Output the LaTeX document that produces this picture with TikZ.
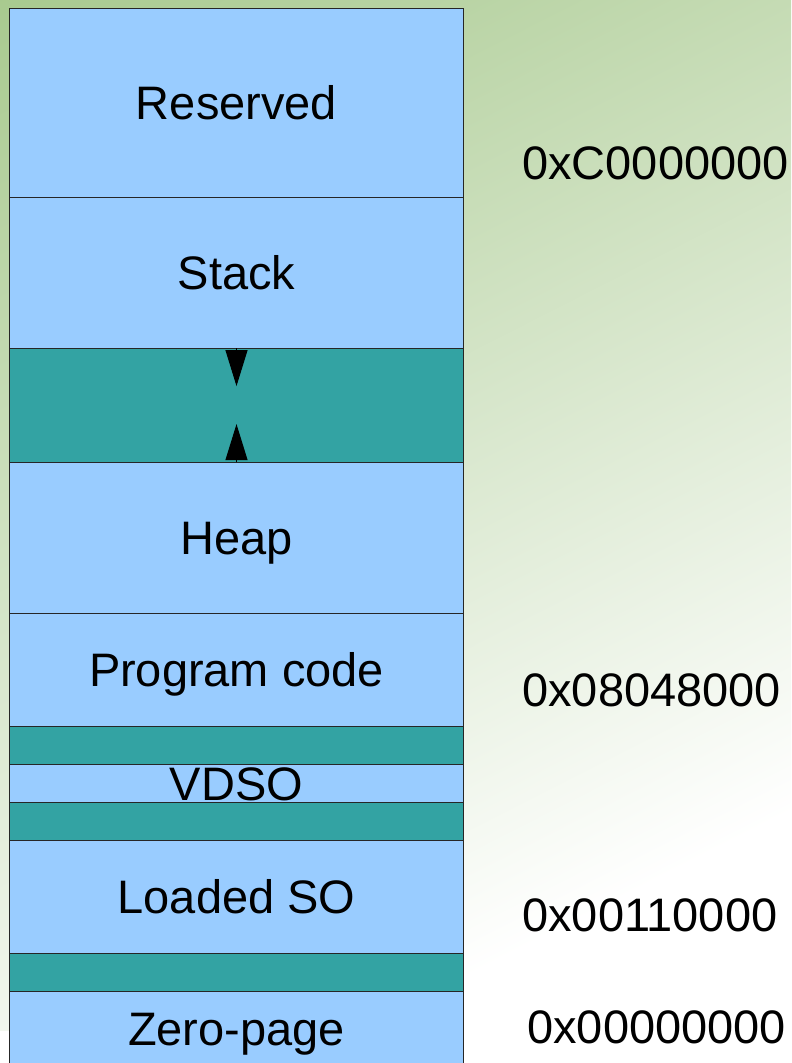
\documentclass[tikz,border=0pt]{standalone}
\usepackage{fontspec}
\setmainfont{Liberation Sans}
\usetikzlibrary{positioning,arrows.meta}
\definecolor{segblue}{HTML}{99CCFF}
\definecolor{segteal}{HTML}{33A3A3}
\definecolor{bggreen}{RGB}{166,200,140}

\begin{document}
\begin{tikzpicture}[x=0.025cm,y=-0.025cm,
seg/.style={rectangle, draw=black!85, line width=0.7pt, fill=segblue,
                minimum width=11.325cm, outer sep=0pt, inner sep=0pt,
                font=\fontsize{33.4}{40}\selectfont,
                text height=23.9pt, text depth=0pt},
hole/.style={seg, fill=segteal},
addr/.style={anchor=west, inner sep=0pt,
                font=\fontsize{33.4}{40}\selectfont,
                text height=23.9pt, text depth=0pt},
growarrow/.style={-{Triangle[length=0.9cm,width=0.55cm]}, line width=0.7pt}]
    \useasboundingbox (0,0) rectangle (791,1063);
    \shade [top color=bggreen, bottom color=white, shading angle=27]
          (0,-250) rectangle (791,1030);
    % memory map, top to bottom
    \node[seg, minimum height=4.725cm, anchor=north] (reserved) at (236.5,8) {Reserved};
    \node[seg, minimum height=3.775cm, below=0pt of reserved] (stack) {Stack};
    \node[hole, minimum height=2.85cm, below=0pt of stack] (free) {};
    \node[seg, minimum height=3.775cm, below=0pt of free] (heap) {Heap};
    \node[seg, minimum height=2.825cm, below=0pt of heap] (code) {Program code};
    \node[hole, minimum height=0.95cm, below=0pt of code] (hole1) {};
    \node[seg, minimum height=0.95cm, below=0pt of hole1] (vdso) {VDSO};
    \node[hole, minimum height=0.95cm, below=0pt of vdso] (hole2) {};
    \node[seg, minimum height=2.825cm, below=0pt of hole2] (so) {Loaded SO};
    \node[hole, minimum height=0.95cm, below=0pt of so] (hole3) {};
    \node[seg, minimum height=1.85cm, below=0pt of hole3] (zero) {Zero-page};
    % stack grows down, heap grows up
    \path (free.north) ++(0,38) coordinate (stacktip);
    \path (free.south) ++(0,-38) coordinate (heaptip);
    \draw[growarrow] (free.north) -- (stacktip);
    \draw[growarrow] (free.south) -- (heaptip);
    % addresses
    \node[addr] (addrC) at (522,163) {0xC0000000};
    \node[addr] (addrcode) at (522,690) {0x08048000};
    \node[addr] (addrso) at (522,915) {0x00110000};
    \node[addr] (addrzero) at (527,1027) {0x00000000};
\end{tikzpicture}
\end{document}
